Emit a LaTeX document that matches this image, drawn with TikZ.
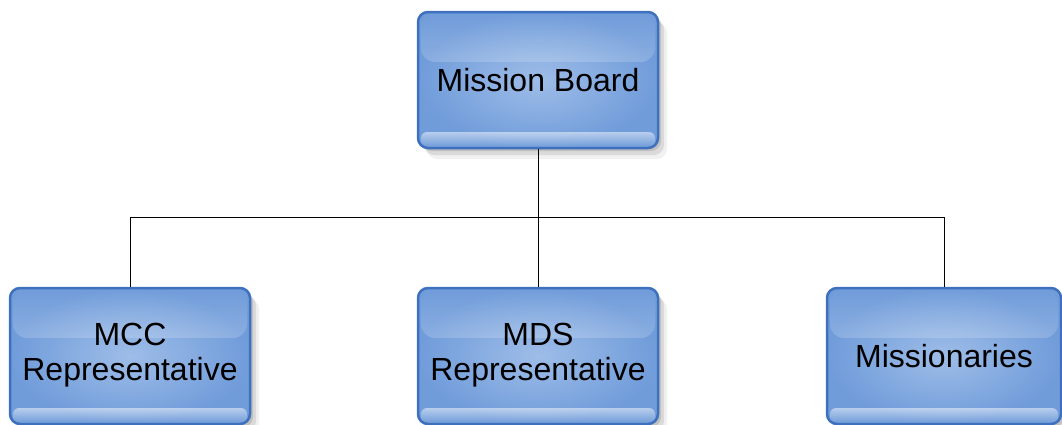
\documentclass[tikz,border=0pt]{standalone}
\usepackage{fontspec}
\setmainfont{Liberation Sans}
\usetikzlibrary{shadows,fadings}
\definecolor{bordc}{RGB}{62,112,190}
\definecolor{innc}{RGB}{158,189,232}
\definecolor{outc}{RGB}{112,156,218}
\tikzset{
  orgbox/.style={rectangle, rounded corners=10pt, draw=bordc, line width=2.5pt,
    minimum width=#1, minimum height=136pt, inner sep=0pt,
    inner color=innc, outer color=outc,
    drop shadow={shadow xshift=3pt, shadow yshift=-3pt, opacity=0.18, fill=black!70},
    drop shadow={shadow xshift=6pt, shadow yshift=-7pt, opacity=0.14, fill=black!70},
    drop shadow={shadow xshift=9pt, shadow yshift=-11pt, opacity=0.08, fill=black!70},
    font=\fontsize{32}{35}\selectfont, align=center, text=black,
    path picture={
      \fill[white, opacity=0.5, path fading=north, rounded corners=14pt]
        ([xshift=3pt,yshift=-1pt]path picture bounding box.north west)
        rectangle ([xshift=-3pt,yshift=-50pt]path picture bounding box.north east);
      \fill[white, opacity=0.5, path fading=south, rounded corners=6pt]
        ([xshift=3pt,yshift=1pt]path picture bounding box.south west)
        rectangle ([xshift=-3pt,yshift=16pt]path picture bounding box.south east);
    }},
  orgbox/.default=240pt,
  link/.style={draw=black, line width=0.9pt}
}
\begin{document}
\begin{tikzpicture}[x=1pt,y=1pt]
\useasboundingbox (0,0) rectangle (1062,-424);
\node[orgbox] (mb) at (538,-80) {Mission Board};
\node[orgbox] (mcc) at (130,-356) {\raisebox{-3pt}{\begin{tabular}{@{}c@{}}MCC\\Representative\end{tabular}}};
\node[orgbox] (mds) at (538,-356) {\raisebox{-3pt}{\begin{tabular}{@{}c@{}}MDS\\Representative\end{tabular}}};
\node[orgbox=234pt] (mis) at (944,-356) {Missionaries};
\coordinate (bus) at (538,-217);
\draw[link] (mb.south) -- (bus);
\draw[link] (bus) -| (mcc.north);
\draw[link] (bus) -| (mis.north);
\draw[link] (bus) -- (mds.north);
\end{tikzpicture}
\end{document}
